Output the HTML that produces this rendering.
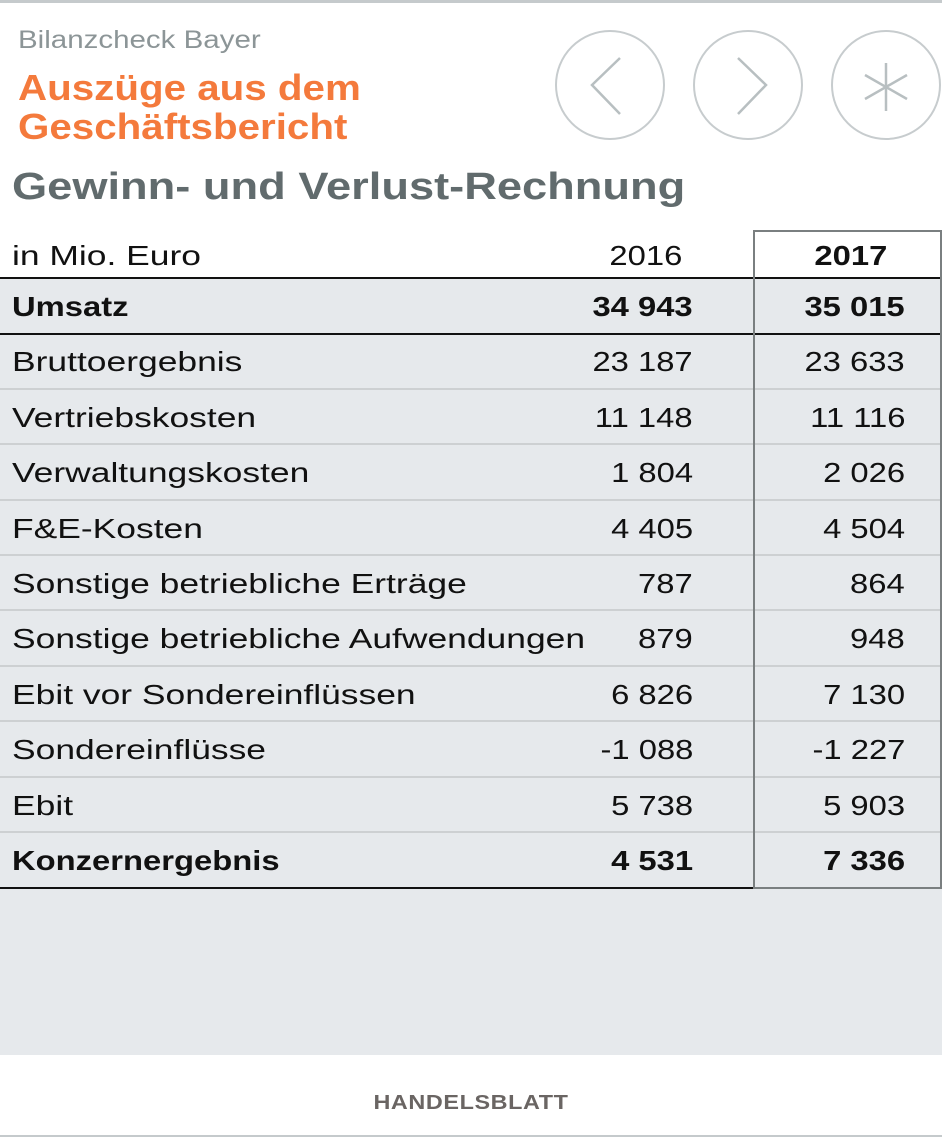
<!DOCTYPE html>
<html><head><meta charset="utf-8">
<style>
*{margin:0;padding:0;box-sizing:border-box}
body{width:942px;height:1138px;background:#fff;position:relative;overflow:hidden;font-family:"Liberation Sans",sans-serif}
.abs{position:absolute}
.row{position:absolute;left:0;width:942px;background:#e6e9ec;border-bottom:2px solid #cdd0d2}
.t{position:absolute;font-size:28px;color:#111;white-space:nowrap;line-height:1}
.L{transform:scaleX(1.265);transform-origin:left center}
.L.b{transform:scaleX(1.17)}
.R{transform:scaleX(1.17);transform-origin:right center}
.b{font-weight:bold}
.btn{position:absolute;top:30px;width:110px;height:110px;border:2px solid #c7ccce;border-radius:50%}
</style></head><body>
<div class="abs" style="left:0;top:0;width:942px;height:3px;background:#c5cacc"></div>
<div class="abs" style="left:18px;top:26px;font-size:25px;color:#8c9597;transform:scaleX(1.18);transform-origin:left">Bilanzcheck Bayer</div>
<div class="abs" style="left:18px;top:68px;font-size:36px;font-weight:bold;color:#f47a3c;line-height:39px;transform:scaleX(1.12);transform-origin:left">Auszüge aus dem<br>Geschäftsbericht</div>
<div class="btn" style="left:555px"><svg width="106" height="106" style="position:absolute;left:0;top:0"><polyline points="63,26 35,53 63,82" fill="none" stroke="#b8bfc1" stroke-width="2.5"/></svg></div>
<div class="btn" style="left:693px"><svg width="106" height="106" style="position:absolute;left:0;top:0"><polyline points="43,26 71,53 43,82" fill="none" stroke="#b8bfc1" stroke-width="2.5"/></svg></div>
<div class="btn" style="left:831px"><svg width="106" height="106" style="position:absolute;left:0;top:0"><g stroke="#b8bfc1" stroke-width="2.5"><line x1="53" y1="31" x2="53" y2="79"/><line x1="32" y1="43" x2="74" y2="67"/><line x1="32" y1="67" x2="74" y2="43"/></g></svg></div>
<div class="abs" style="left:12px;top:166px;font-size:38px;font-weight:bold;color:#616b6d;transform:scaleX(1.19);transform-origin:left">Gewinn- und Verlust-Rechnung</div>
<div class="abs" style="left:0;top:279px;width:942px;height:776px;background:#e6e9ec"></div>
<div class="t L" style="left:12px;top:242px">in Mio. Euro</div>
<div class="t R" style="right:260px;top:242px">2016</div>
<div id="rows"></div>
<div class="abs" style="left:0;top:277px;width:942px;height:2px;background:#111"></div>
<div class="abs" style="left:0;top:333px;width:942px;height:2px;background:#111"></div>
<div class="abs" style="left:0;top:887px;width:942px;height:2px;background:#111"></div>
<div class="abs" style="left:753px;top:230px;width:189px;height:659px;border:2px solid #7a7f80"></div>
<div class="abs" style="left:755px;top:232px;width:185px;height:45px;background:#fff"></div>
<div class="t b R" style="right:55px;top:242px">2017</div>
<div class="abs" style="left:0;top:1092px;width:942px;text-align:center;font-size:20px;font-weight:bold;color:#6a6563;letter-spacing:0.5px;transform:scaleX(1.17)">HANDELSBLATT</div>
<div class="abs" style="left:0;top:1135px;width:942px;height:2px;background:#c5cacc"></div>
<script>
const labels=["Umsatz","Bruttoergebnis","Vertriebskosten","Verwaltungskosten","F&E-Kosten","Sonstige betriebliche Erträge","Sonstige betriebliche Aufwendungen","Ebit vor Sondereinflüssen","Sondereinflüsse","Ebit","Konzernergebnis"];
const v2016=["34 943","23 187","11 148","1 804","4 405","787","879","6 826","-1 088","5 738","4 531"];
const v2017=["35 015","23 633","11 116","2 026","4 504","864","948","7 130","-1 227","5 903","7 336"];
const bold=[0,10];
const host=document.getElementById('rows');
labels.forEach((l,i)=>{
 const top=279+i*55.4;
 const r=document.createElement('div');
 r.className='row';
 r.style.top=top+'px';r.style.height='55.4px';
 if(i===0||i===10)r.style.borderBottom='none';
 
 
 const cls='t'+(bold.includes(i)?' b':'');
 const a=document.createElement('div');a.className=cls+' L';a.textContent=l;a.style.left='12px';a.style.top='14px';
 
 
 const b=document.createElement('div');b.className=cls+' R';b.textContent=v2016[i];b.style.right='249px';b.style.top='14px';
 
 
 const c=document.createElement('div');c.className=cls+' R';c.textContent=v2017[i];c.style.right='37px';c.style.top='14px';
 
 
 r.appendChild(a);r.appendChild(b);r.appendChild(c);host.appendChild(r);
});
</script>
</body></html>
